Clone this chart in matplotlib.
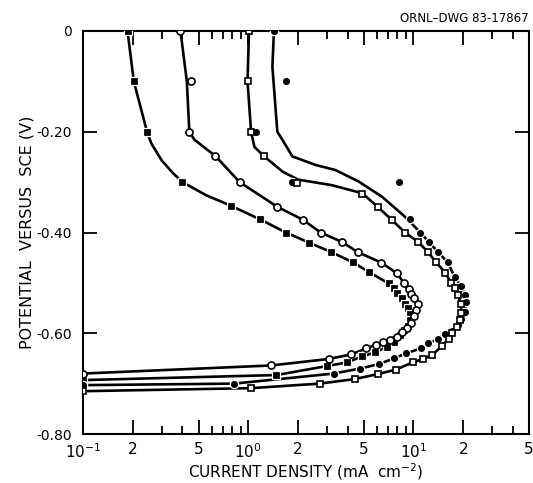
import matplotlib
matplotlib.use("Agg")
import matplotlib.pyplot as plt
from matplotlib.ticker import FixedLocator, NullFormatter

plt.rcParams['font.family'] = ['DejaVu Sans']
plt.rcParams['mathtext.fontset'] = 'dejavusans'

# ---- Series A: filled squares ----
a_mark_x = [0.186, 0.203, 0.244, 0.40, 0.787, 1.18, 1.69, 2.33, 3.18, 4.29, 5.41, 7.06, 7.6, 8.0,
            8.5, 8.9, 9.3, 9.55, 9.55, 9.2, 8.8, 8.3, 7.6, 6.9, 5.87, 4.87, 3.96, 3.0, 1.48, 0.1]
a_mark_y = [0.0, -0.10, -0.20, -0.30, -0.347, -0.374, -0.40, -0.42, -0.439, -0.459, -0.479, -0.501,
            -0.511, -0.521, -0.531, -0.541, -0.55, -0.562, -0.574, -0.586, -0.594, -0.603, -0.617,
            -0.627, -0.638, -0.646, -0.658, -0.665, -0.683, -0.693]
a_curve_x = [0.186, 0.203, 0.244, 0.259, 0.298, 0.35, 0.40, 0.556, 0.787, 1.18, 1.69, 2.33, 3.18,
             4.29, 5.41, 7.06, 8.0, 8.9, 9.4, 9.6, 9.55, 9.2, 8.3, 6.9, 5.87, 4.87, 3.96, 3.0, 1.48, 0.1]
a_curve_y = [0.0, -0.10, -0.20, -0.223, -0.256, -0.282, -0.30, -0.326, -0.347, -0.374, -0.40, -0.42,
             -0.439, -0.459, -0.479, -0.501, -0.521, -0.541, -0.555, -0.565, -0.574, -0.586, -0.603,
             -0.627, -0.638, -0.646, -0.658, -0.665, -0.683, -0.693]

# ---- Series B: open circles ----
b_mark_x = [0.389, 0.448, 0.44, 0.632, 0.887, 1.50, 2.15, 2.74, 3.70, 4.60, 6.4, 7.93, 8.8, 9.4,
            9.7, 10.1, 10.6, 10.4, 10.1, 9.7, 9.1, 8.5, 7.93, 7.2, 6.5, 5.9, 5.15, 4.2, 3.08, 1.37, 0.1]
b_mark_y = [0.0, -0.10, -0.20, -0.248, -0.30, -0.349, -0.375, -0.40, -0.419, -0.439, -0.46, -0.481,
            -0.501, -0.513, -0.522, -0.531, -0.541, -0.554, -0.566, -0.579, -0.59, -0.597, -0.607,
            -0.613, -0.617, -0.623, -0.63, -0.642, -0.651, -0.664, -0.68]
b_curve_x = [0.389, 0.425, 0.44, 0.473, 0.632, 0.887, 1.50, 2.15, 2.74, 3.70, 4.60, 6.4, 7.93, 8.8,
             9.7, 10.4, 10.6, 10.4, 9.7, 8.5, 7.2, 5.9, 4.2, 3.08, 1.37, 0.1]
b_curve_y = [0.0, -0.10, -0.20, -0.216, -0.248, -0.30, -0.349, -0.375, -0.40, -0.419, -0.439, -0.46,
             -0.481, -0.501, -0.522, -0.538, -0.547, -0.556, -0.579, -0.597, -0.613, -0.623, -0.642,
             -0.651, -0.664, -0.68]

# ---- Series C: open squares ----
c_mark_x = [1.01, 0.99, 1.04, 1.24, 1.98, 4.89, 6.07, 7.39, 8.89, 10.6, 12.2, 13.6, 15.6, 16.9,
            17.8, 18.6, 19.4, 19.5, 19.2, 18.3, 17.0, 16.3, 14.9, 13.0, 11.4, 9.87, 7.85, 6.1, 4.4,
            2.7, 1.04, 0.1]
c_mark_y = [0.0, -0.10, -0.20, -0.248, -0.301, -0.324, -0.349, -0.375, -0.40, -0.418, -0.438,
            -0.458, -0.48, -0.50, -0.511, -0.524, -0.542, -0.559, -0.574, -0.587, -0.60, -0.611,
            -0.625, -0.643, -0.651, -0.658, -0.672, -0.681, -0.691, -0.70, -0.709, -0.715]
c_curve_x = [1.01, 0.99, 1.04, 1.09, 1.24, 1.61, 2.0, 3.2, 4.89, 6.07, 7.39, 8.89, 10.6, 12.2, 13.6,
             15.6, 16.9, 17.8, 18.6, 19.4, 19.5, 19.2, 18.3, 17.0, 16.3, 14.9, 13.0, 11.4, 9.87,
             7.85, 6.1, 4.4, 2.7, 1.04, 0.1]
c_curve_y = [0.0, -0.10, -0.20, -0.23, -0.248, -0.279, -0.295, -0.306, -0.322, -0.349, -0.375,
             -0.40, -0.418, -0.438, -0.458, -0.48, -0.50, -0.511, -0.524, -0.542, -0.559, -0.574,
             -0.587, -0.60, -0.611, -0.625, -0.643, -0.651, -0.658, -0.672, -0.681, -0.691, -0.70,
             -0.709, -0.715]

# ---- Series D: filled circles ----
d_mark_x = [1.43, 1.69, 1.11, 1.85, 8.13, 9.55, 11.0, 12.4, 14.1, 16.1, 17.8, 19.5, 20.5, 20.9,
            20.5, 19.5, 18.6, 17.0, 15.5, 14.0, 12.3, 11.1, 9.0, 7.6, 6.2, 4.76, 3.29, 0.82, 0.1]
d_mark_y = [0.0, -0.10, -0.20, -0.30, -0.30, -0.374, -0.40, -0.419, -0.439, -0.459, -0.489, -0.507,
            -0.524, -0.537, -0.557, -0.572, -0.584, -0.595, -0.601, -0.612, -0.62, -0.63, -0.64,
            -0.65, -0.661, -0.67, -0.68, -0.70, -0.703]
d_curve_x = [1.43, 1.40, 1.45, 1.50, 1.61, 1.85, 2.56, 3.37, 4.67, 6.45, 8.9, 11.0, 12.4, 14.1,
             16.1, 17.8, 19.5, 20.5, 20.9, 20.5, 19.5, 18.6, 17.0, 15.5, 14.0, 12.3, 11.1, 9.0,
             7.6, 6.2, 4.76, 3.29, 0.82, 0.1]
d_curve_y = [0.0, -0.071, -0.137, -0.20, -0.216, -0.249, -0.266, -0.276, -0.299, -0.329, -0.369,
             -0.40, -0.419, -0.439, -0.459, -0.489, -0.507, -0.524, -0.537, -0.557, -0.572, -0.584,
             -0.595, -0.601, -0.612, -0.62, -0.63, -0.64, -0.65, -0.661, -0.67, -0.68, -0.70, -0.703]

x_major = [0.1, 0.2, 0.5, 1, 2, 5, 10, 20, 50]
x_major_labels = [r'$10^{-1}$', '2', '5', r'$10^{0}$', '2', '5', r'$10^{1}$', '2', '5']
x_minor = [0.3, 0.4, 0.6, 0.7, 0.8, 0.9, 3, 4, 6, 7, 8, 9, 30, 40]
y_ticks = [0.0, -0.2, -0.4, -0.6, -0.8]
y_tick_labels = ['0', '-0.20', '-0.40', '-0.60', '-0.80']

fig = plt.figure(figsize=(5.33, 4.83), dpi=100)
ax = fig.add_axes([83/533, 49/483, 446/533, 403/483])
ax.set_xscale('log')
ax.set_xlim(0.1, 50)
ax.set_ylim(-0.8, 0.0)

lw = 1.9
for cx, cy in [(a_curve_x, a_curve_y), (b_curve_x, b_curve_y),
               (c_curve_x, c_curve_y), (d_curve_x, d_curve_y)]:
    ax.plot(cx, cy, color='black', lw=lw, zorder=2, solid_capstyle='round')

ax.plot(a_mark_x, a_mark_y, ls='none', marker='s', ms=5.6, mfc='black', mec='white', mew=0.9, zorder=3)
ax.plot(d_mark_x, d_mark_y, ls='none', marker='o', ms=6.0, mfc='black', mec='white', mew=0.9, zorder=3)
ax.plot(b_mark_x, b_mark_y, ls='none', marker='o', ms=5.1, mfc='white', mec='black', mew=1.2, zorder=4)
ax.plot(c_mark_x, c_mark_y, ls='none', marker='s', ms=4.8, mfc='white', mec='black', mew=1.2, zorder=4)

for sp in ax.spines.values():
    sp.set_linewidth(1.5)

ax.xaxis.set_major_locator(FixedLocator(x_major))
ax.xaxis.set_minor_locator(FixedLocator(x_minor))
ax.set_xticklabels(x_major_labels)
ax.xaxis.set_minor_formatter(NullFormatter())
ax.set_yticks(y_ticks)
ax.set_yticklabels(y_tick_labels)

ax.tick_params(axis='x', which='major', direction='in', length=10, width=1.3, top=True,
               labelsize=11, pad=6)
ax.tick_params(axis='x', which='minor', direction='in', length=5.5, width=1.3, top=True)
ax.tick_params(axis='y', which='major', direction='in', length=10, width=1.3, right=True,
               labelsize=10, pad=8)

ax.set_xlabel(r'CURRENT DENSITY (mA  cm$^{-2}$)', fontsize=11, va='center')
ax.xaxis.set_label_coords(0.5, -(472 - 434) / 403)
ax.set_ylabel('POTENTIAL  VERSUS  SCE (V)', fontsize=11.5, va='center')
ax.yaxis.set_label_coords((27 - 83) / 446, 0.5)

fig.text(529/533, 1 - 18/483, 'ORNL\u2013DWG 83-17867', ha='right', va='center', fontsize=8.5)

fig.savefig('out.png', dpi=100)
